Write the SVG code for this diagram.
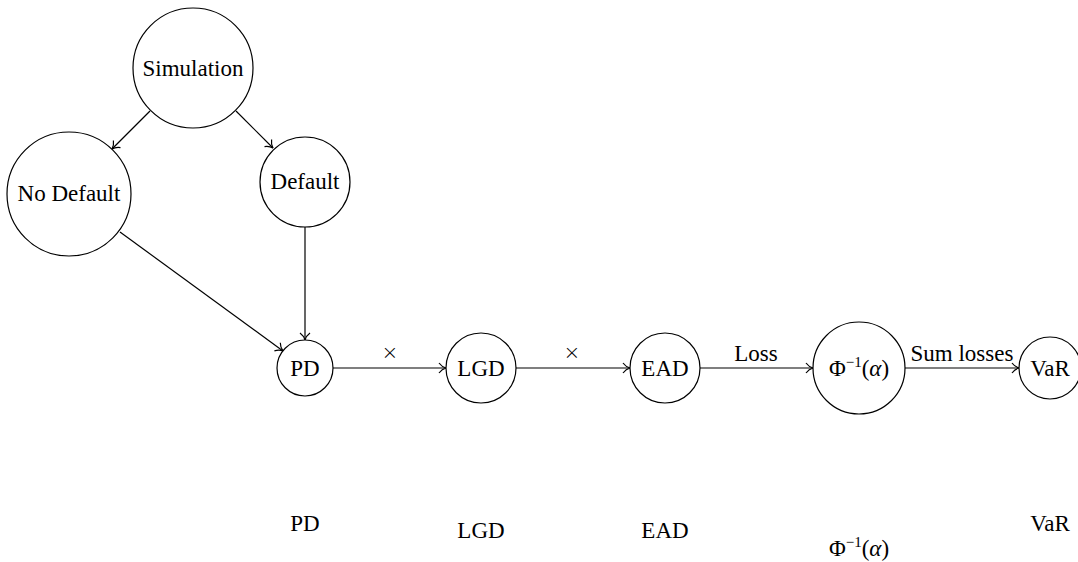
<svg xmlns="http://www.w3.org/2000/svg" width="1078" height="562" viewBox="0 0 1078 562">
<style>
.n{fill:#fff;stroke:#000;stroke-width:1.2}
.t{font-family:'Liberation Serif','Times New Roman',serif;font-size:23px;fill:#000;text-anchor:middle}
.e{fill:none;stroke:#000;stroke-width:1.2;marker-end:url(#a)}
.i{font-style:italic}
.x{font-family:'DejaVu Sans',sans-serif;font-size:20px;text-anchor:middle;fill:#000;font-weight:200}
</style>
<defs>
<marker id="a" markerWidth="12" markerHeight="12" refX="10" refY="6" orient="auto" markerUnits="userSpaceOnUse">
<path d="M3,1 Q6,5 10,6 Q6,7 3,11" fill="none" stroke="#000" stroke-width="1.2"/>
</marker>
</defs>
<rect width="1078" height="562" fill="#fff"/>
<g id="connectors">
<line class="e" x1="150" y1="111" x2="112" y2="149"/>
<line class="e" x1="236" y1="111" x2="273" y2="148"/>
<line class="e" x1="120" y1="232" x2="283" y2="351"/>
<line class="e" x1="305" y1="227" x2="305" y2="340"/>
<line class="e" x1="333" y1="368" x2="446" y2="368"/>
<line class="e" x1="516" y1="368" x2="630" y2="368"/>
<line class="e" x1="700" y1="368" x2="813" y2="368"/>
<line class="e" x1="905" y1="368" x2="1019" y2="368"/>
<text class="x" x="390" y="359">×</text>
<text class="x" x="572" y="359">×</text>
<text class="t" x="756" y="361">Loss</text>
<text class="t" x="962" y="361">Sum losses</text>
</g>
<g id="simulation"><circle class="n" cx="193" cy="68" r="60"/><text class="t" x="193" y="76">Simulation</text></g>
<g id="nodefault"><circle class="n" cx="69" cy="194" r="62"/><text class="t" x="69" y="201">No Default</text></g>
<g id="default"><circle class="n" cx="305" cy="182" r="45"/><text class="t" x="305" y="189">Default</text></g>
<g id="pd"><circle class="n" cx="305" cy="368" r="28"/><text class="t" x="305" y="376">PD</text></g>
<g id="lgd"><circle class="n" cx="481" cy="368" r="35"/><text class="t" x="481" y="376">LGD</text></g>
<g id="ead"><circle class="n" cx="665" cy="368" r="35"/><text class="t" x="665" y="376">EAD</text></g>
<g id="phi"><circle class="n" cx="859" cy="368" r="46"/><text class="t" x="859" y="376">Φ<tspan font-size="15" dy="-9">−1</tspan><tspan dy="9">(</tspan><tspan class="i">α</tspan>)</text></g>
<g id="var"><circle class="n" cx="1050" cy="368" r="31"/><text class="t" x="1050" y="376">VaR</text></g>
<g id="labels">
<text class="t" x="305" y="531">PD</text>
<text class="t" x="481" y="538">LGD</text>
<text class="t" x="665" y="538">EAD</text>
<text class="t" x="859" y="556">Φ<tspan font-size="15" dy="-9">−1</tspan><tspan dy="9">(</tspan><tspan class="i">α</tspan>)</text>
<text class="t" x="1050" y="531">VaR</text>
</g>
</svg>
